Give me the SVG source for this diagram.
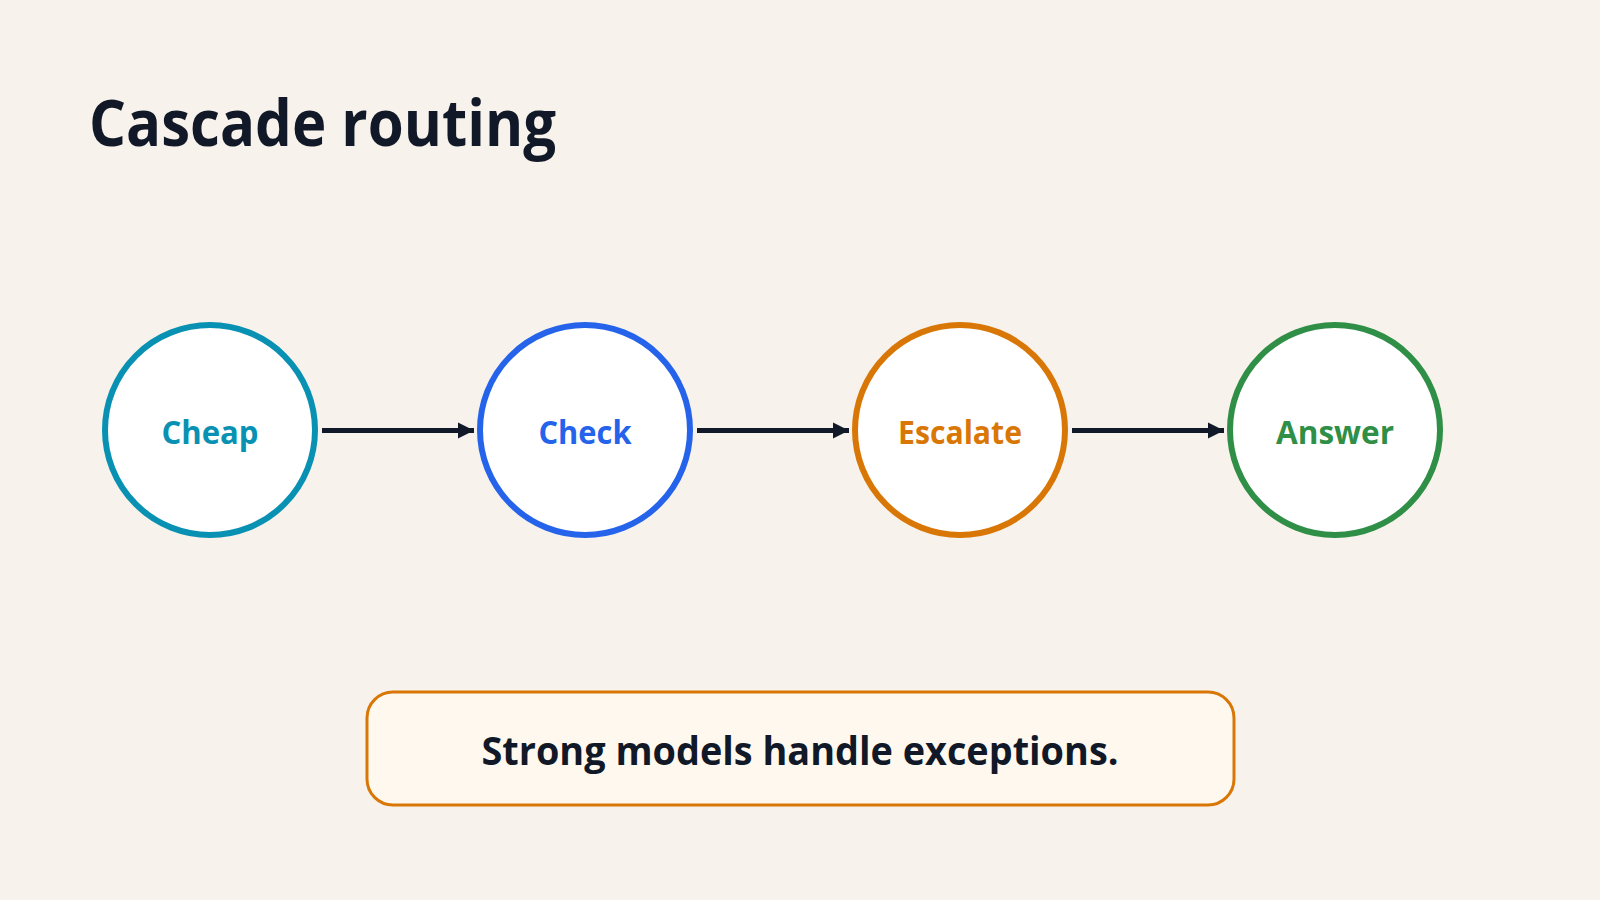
<svg xmlns="http://www.w3.org/2000/svg" width="1600" height="900" viewBox="0 0 1600 900">
<defs>
<style>
.bg{fill:#f7f2eb}
.title{font-family:"Open Sans","Noto Sans","Liberation Sans",sans-serif;font-weight:700;font-size:64px;fill:#111827}
.node{fill:#ffffff;stroke-width:6}
.lbl{font-family:"Open Sans","Noto Sans","Liberation Sans",sans-serif;font-weight:700;font-size:33px;text-anchor:middle}
.edge{stroke:#111827;stroke-width:5;fill:none}
.note{fill:#fff8ee;stroke:#d97706;stroke-width:3}
.notetxt{font-family:"Open Sans","Noto Sans","Liberation Sans",sans-serif;font-weight:700;font-size:39px;fill:#111827;text-anchor:middle}
</style>
<marker id="arr" markerUnits="userSpaceOnUse" markerWidth="18" markerHeight="18" viewBox="0 0 18 18" refX="17" refY="9" orient="auto">
<path d="M1,1 L17,9 L1,17 Z" fill="#111827"/>
</marker>
</defs>
<rect class="bg" x="0" y="0" width="1600" height="900"/>
<text class="title" x="89" y="146" textLength="467" lengthAdjust="spacingAndGlyphs">Cascade routing</text>
<g id="connectors">
<line class="edge" x1="322" y1="430.5" x2="474" y2="430.5" marker-end="url(#arr)"/>
<line class="edge" x1="697" y1="430.5" x2="849" y2="430.5" marker-end="url(#arr)"/>
<line class="edge" x1="1072" y1="430.5" x2="1224" y2="430.5" marker-end="url(#arr)"/>
</g>
<g id="node-cheap">
<circle class="node" cx="210" cy="430" r="105" stroke="#0891b2"/>
<text class="lbl" x="210" y="444" fill="#0891b2" textLength="97" lengthAdjust="spacingAndGlyphs">Cheap</text>
</g>
<g id="node-check">
<circle class="node" cx="585" cy="430" r="105" stroke="#2563eb"/>
<text class="lbl" x="585" y="444" fill="#2563eb" textLength="93" lengthAdjust="spacingAndGlyphs">Check</text>
</g>
<g id="node-escalate">
<circle class="node" cx="960" cy="430" r="105" stroke="#d97706"/>
<text class="lbl" x="960" y="444" fill="#d97706" textLength="124" lengthAdjust="spacingAndGlyphs">Escalate</text>
</g>
<g id="node-answer">
<circle class="node" cx="1335" cy="430" r="105" stroke="#2f8f46"/>
<text class="lbl" x="1335" y="444" fill="#2f8f46" textLength="118" lengthAdjust="spacingAndGlyphs">Answer</text>
</g>
<g id="note">
<rect class="note" x="367" y="692" width="867" height="113" rx="26"/>
<text class="notetxt" x="800" y="765" textLength="637" lengthAdjust="spacingAndGlyphs">Strong models handle exceptions.</text>
</g>
</svg>
